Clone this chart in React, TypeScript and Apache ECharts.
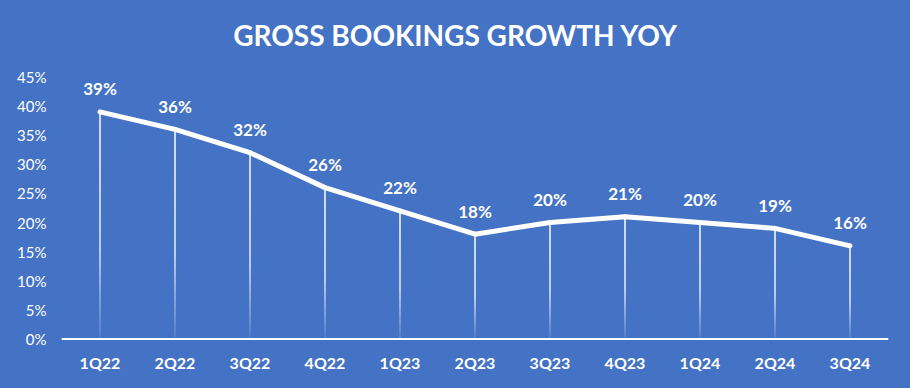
import React, { useEffect, useRef } from "react";
import * as echarts from "echarts";

const categories = ["1Q22", "2Q22", "3Q22", "4Q22", "1Q23", "2Q23", "3Q23", "4Q23", "1Q24", "2Q24", "3Q24"];
const growth = [39, 36, 32, 26, 22, 18, 20, 21, 20, 19, 16];
const yTicks = [0, 5, 10, 15, 20, 25, 30, 35, 40, 45];
const title = "GROSS BOOKINGS GROWTH YOY";

export default function App() {
  const ref = useRef<HTMLDivElement>(null);
  useEffect(() => {
    if (!ref.current) return;
    const chart = echarts.init(ref.current, null, { renderer: "svg" });
    const font = "Lato, 'Open Sans', sans-serif";
    chart.setOption({
      animation: false,
      backgroundColor: "#4472C4",
      title: {
        text: title,
        left: "center",
        top: 16,
        textStyle: { color: "#ffffff", fontSize: 28, fontWeight: "bold", fontFamily: font },
      },
      grid: { left: 62.5, right: 22.5, top: 77, bottom: 49, containLabel: false },
      xAxis: {
        type: "category",
        data: categories,
        boundaryGap: true,
        axisLine: { show: true, lineStyle: { color: "#ffffff", width: 2 } },
        axisTick: { show: false },
        axisLabel: { color: "#ffffff", fontSize: 16, fontWeight: "bold", fontFamily: font, margin: 15 },
        splitLine: { show: false },
      },
      yAxis: {
        type: "value",
        min: yTicks[0],
        max: yTicks[yTicks.length - 1],
        interval: 5,
        axisLine: { show: false },
        axisTick: { show: false },
        splitLine: { show: false },
        axisLabel: {
          color: "#ffffff",
          fontSize: 15,
          fontFamily: font,
          margin: 16,
          formatter: (v: number) => v + "%",
        },
      },
      series: [
        {
          type: "bar",
          data: growth,
          barWidth: 1.5,
          silent: true,
          itemStyle: {
            color: new echarts.graphic.LinearGradient(0, 0, 0, 1, [
              { offset: 0, color: "rgba(255,255,255,1)" },
              { offset: 0.6, color: "rgba(255,255,255,0.85)" },
              { offset: 1, color: "rgba(255,255,255,0.1)" },
            ]),
          },
          z: 1,
        },
        {
          type: "line",
          data: growth,
          symbol: "circle",
          symbolSize: 5,
          showSymbol: true,
          itemStyle: { color: "#ffffff" },
          lineStyle: { color: "#ffffff", width: 5 },
          label: {
            show: true,
            position: "top",
            distance: 12,
            color: "#ffffff",
            fontSize: 17,
            fontWeight: "bold",
            fontFamily: font,
            formatter: (p: any) => p.value + "%",
          },
          z: 3,
        },
      ],
    });
    return () => chart.dispose();
  }, []);
  return (
    <div
      ref={ref}
      style={{ position: "fixed", left: 0, top: 0, width: 910, height: 388 }}
    />
  );
}
